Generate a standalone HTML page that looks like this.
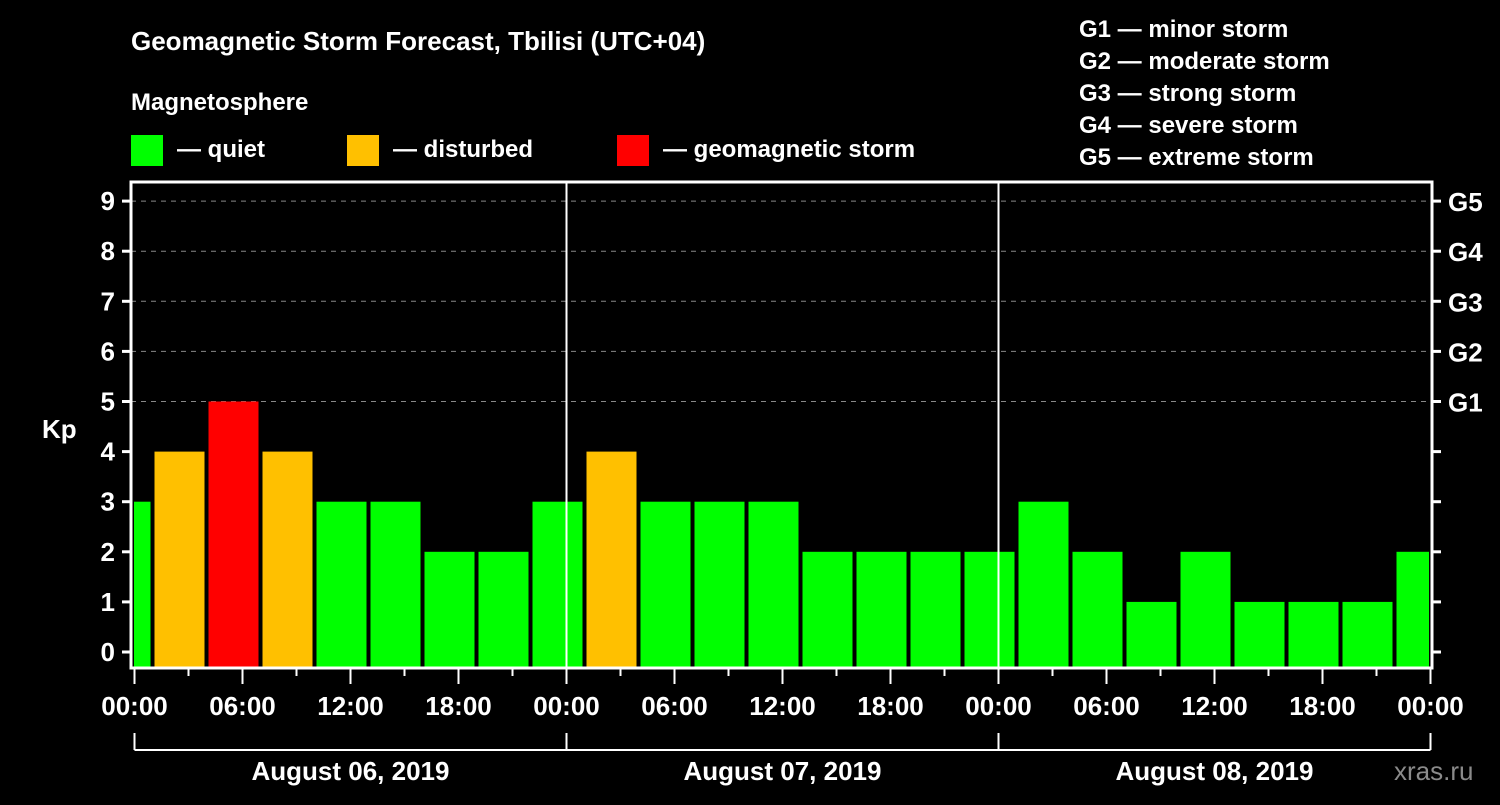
<!DOCTYPE html>
<html><head><meta charset="utf-8"><style>
body{margin:0;background:#000;width:1500px;height:800px;overflow:hidden}
svg text{font-family:"Liberation Sans",sans-serif;font-weight:bold;fill:#fff}
</style></head><body>
<svg id="c" width="1500" height="800" xmlns="http://www.w3.org/2000/svg">
<rect width="1500" height="800" fill="#000"/>
<text x="131" y="50" font-size="26">Geomagnetic Storm Forecast, Tbilisi (UTC+04)</text>
<text x="131" y="110" font-size="24">Magnetosphere</text>
<rect x="131" y="135" width="32" height="31" fill="#00ff00"/>
<text x="177" y="157" font-size="24">— quiet</text>
<rect x="347" y="135" width="32" height="31" fill="#ffc000"/>
<text x="393" y="157" font-size="24">— disturbed</text>
<rect x="617" y="135" width="32" height="31" fill="#ff0000"/>
<text x="663" y="157" font-size="24">— geomagnetic storm</text>
<g font-size="24">
<text x="1079" y="37">G1 — minor storm</text>
<text x="1079" y="69">G2 — moderate storm</text>
<text x="1079" y="101">G3 — strong storm</text>
<text x="1079" y="133">G4 — severe storm</text>
<text x="1079" y="165">G5 — extreme storm</text>
</g>
<text x="42" y="438" font-size="26">Kp</text>
<text x="1394" y="780" font-size="26" fill="#888" style="fill:#8a8a8a;font-weight:normal">xras.ru</text>
<g id="g"></g>
</svg>
<script>
const kpValues=[3,4,5,4,3,3,2,2,3,4,3,3,3,2,2,2,2,3,2,1,2,1,1,1,2];
const yTicks=[0,1,2,3,4,5,6,7,8,9];
const gLabels=["G1","G2","G3","G4","G5"];
const xTickLabels=["00:00","06:00","12:00","18:00","00:00","06:00","12:00","18:00","00:00","06:00","12:00","18:00","00:00"];
const dayLabels=["August 06, 2019","August 07, 2019","August 08, 2019"];
const binStartHour=-2;

const NS="http://www.w3.org/2000/svg",g=document.getElementById('g');
const L=131,R=1432,T=182,B=668,X0=134.5,PX_H=18;
const y=v=>652-v*50.1;
const x=h=>X0+h*PX_H;
function el(t,a){const e=document.createElementNS(NS,t);for(const k in a)e.setAttribute(k,a[k]);g.appendChild(e);return e;}
// grid
for(let v=5;v<=9;v++){const e=el('line',{x1:L,x2:R,y1:y(v),y2:y(v),stroke:'#888','stroke-dasharray':'5,5','stroke-width':1});

}
// bars
kpValues.forEach((v,i)=>{
 let a=x(binStartHour+3*i)+2,b=x(binStartHour+3*i+3)-2;
 a=Math.max(a,L+3);b=Math.min(b,R-3);
 const c=v>=5?'#ff0000':v>=4?'#ffc000':'#00ff00';
 const r=el('rect',{x:a,y:y(v),width:b-a,height:B-1-y(v),fill:c});
 
 
});
// day separators
[1,2].forEach(d=>{const e=el('line',{x1:x(24*d),x2:x(24*d),y1:T,y2:B,stroke:'#fff','stroke-width':2});

});
// frame
const f=el('rect',{x:L,y:T,width:R-L,height:B-T,fill:'none',stroke:'#fff','stroke-width':3});


// y ticks
yTicks.forEach(v=>{
 el('line',{x1:L-9,x2:L,y1:y(v),y2:y(v),stroke:'#fff','stroke-width':3});
 el('line',{x1:R,x2:R+9,y1:y(v),y2:y(v),stroke:'#fff','stroke-width':3});
 const t=el('text',{x:L-16,y:y(v)+9,'font-size':26,'text-anchor':'end'});t.textContent=v;
 
 
});
gLabels.forEach((s,i)=>{const t=el('text',{x:1448,y:y(5+i)+10,'font-size':26});t.textContent=s;
 
 });
// x ticks
for(let h=0;h<=72;h+=3){const long=h%6==0;el('line',{x1:x(h),x2:x(h),y1:B,y2:B+(long?16:8),stroke:'#fff','stroke-width':2});}
xTickLabels.forEach((s,i)=>{const t=el('text',{x:x(6*i),y:715,'font-size':26,'text-anchor':'middle'});t.textContent=s;
 
 });
// day bracket
el('line',{x1:x(0),x2:x(72),y1:750,y2:750,stroke:'#fff','stroke-width':2});
[0,24,48,72].forEach(h=>el('line',{x1:x(h),x2:x(h),y1:733,y2:750,stroke:'#fff','stroke-width':2}));
dayLabels.forEach((s,i)=>{const t=el('text',{x:x(24*i+12),y:780,'font-size':26,'text-anchor':'middle'});t.textContent=s;
 
 });
</script>
</body></html>
